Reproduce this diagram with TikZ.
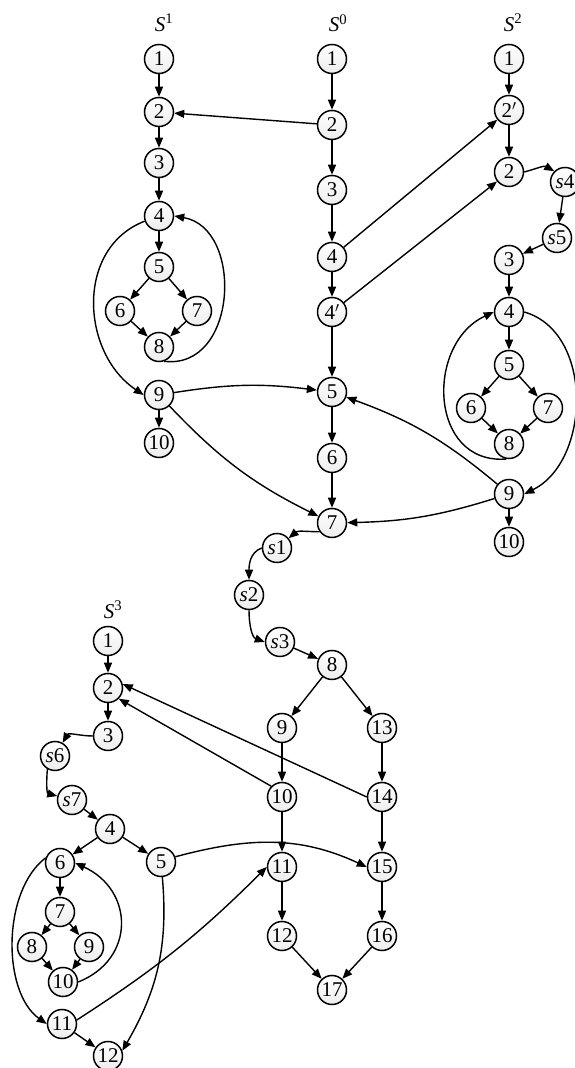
\documentclass[tikz,border=0pt]{standalone}
\usepackage{fontspec}
\setmainfont{Liberation Serif}
\usetikzlibrary{arrows.meta}

\tikzset{
  vtx/.style={circle,draw,line width=1.5pt,minimum size=29pt,inner sep=0pt,
    top color=white,bottom color=gray!14,font=\fontsize{21}{21}\selectfont},
  arr/.style={-{Triangle[length=10pt,width=8pt]},line width=1.4pt},
  lab/.style={font=\fontsize{21}{21}\selectfont}
}

\begin{document}
\begin{tikzpicture}[x=1pt,y=1pt]
    \useasboundingbox (0,0) rectangle (575,1068);

    \def\xa{159} % S^1
    \def\xb{332} % S^0
    \def\xc{509} % S^2
    \def\xd{108} % S^3

    % column labels
    \node[lab] (L1) at (164,1045) {\textit{S}\textsuperscript{1}};
    \node[lab] (L0) at (338,1045) {\textit{S}\textsuperscript{0}};
    \node[lab] (L2) at (513,1045) {\textit{S}\textsuperscript{2}};
    \node[lab] (L3) at (113,458) {\textit{S}\textsuperscript{3}};

    % S^1
    \node[vtx] (S1-1) at (\xa,1009) {1};
    \node[vtx] (S1-2) at (\xa,956) {2};
    \node[vtx] (S1-3) at (\xa,905) {3};
    \node[vtx] (S1-4) at (\xa,852) {4};
    \node[vtx] (S1-5) at (\xa,801) {5};
    \node[vtx] (S1-6) at ({\xa-39},757) {6};
    \node[vtx] (S1-7) at ({\xa+38},757) {7};
    \node[vtx] (S1-8) at (\xa,721) {8};
    \node[vtx] (S1-9) at (\xa,673) {9};
    \node[vtx] (S1-10) at (\xa,625) {10};

    % S^0
    \node[vtx] (S0-1) at (\xb,1009) {1};
    \node[vtx] (S0-2) at (\xb,943) {2};
    \node[vtx] (S0-3) at (\xb,878) {3};
    \node[vtx] (S0-4) at (\xb,811) {4};
    \node[vtx] (S0-4p) at (\xb,756) {4$'$};
    \node[vtx] (S0-5) at (\xb,676) {5};
    \node[vtx] (S0-6) at (\xb,610) {6};
    \node[vtx] (S0-7) at (\xb,545) {7};
    \node[vtx] (s1) at (277,520) {\textit{s}1};
    \node[vtx] (s2) at (249,473) {\textit{s}2};
    \node[vtx] (s3) at (280,426) {\textit{s}3};
    \node[vtx] (S0-8) at (\xb,403) {8};
    \node[vtx] (S0-9) at ({\xb-50},340) {9};
    \node[vtx] (S0-13) at ({\xb+50},340) {13};
    \node[vtx] (S0-10) at ({\xb-50},271) {10};
    \node[vtx] (S0-14) at ({\xb+50},271) {14};
    \node[vtx] (S0-11) at ({\xb-50},201) {11};
    \node[vtx] (S0-15) at ({\xb+50},201) {15};
    \node[vtx] (S0-12) at ({\xb-50},132) {12};
    \node[vtx] (S0-16) at ({\xb+50},132) {16};
    \node[vtx] (S0-17) at (\xb,78) {17};

    % S^2
    \node[vtx] (S2-1) at (\xc,1009) {1};
    \node[vtx] (S2-2p) at (\xc,958) {2$'$};
    \node[vtx] (S2-2) at (\xc,896) {2};
    \node[vtx] (s4) at (565,886) {\textit{s}4};
    \node[vtx] (s5) at (557,830) {\textit{s}5};
    \node[vtx] (S2-3) at (\xc,808) {3};
    \node[vtx] (S2-4) at (\xc,756) {4};
    \node[vtx] (S2-5) at (\xc,703) {5};
    \node[vtx] (S2-6) at ({\xc-38},660) {6};
    \node[vtx] (S2-7) at ({\xc+39},660) {7};
    \node[vtx] (S2-8) at (\xc,624) {8};
    \node[vtx] (S2-9) at (\xc,574) {9};
    \node[vtx] (S2-10) at (\xc,526) {10};

    % S^3
    \node[vtx] (S3-1) at (\xd,427) {1};
    \node[vtx] (S3-2) at (\xd,380) {2};
    \node[vtx] (S3-3) at (\xd,332) {3};
    \node[vtx] (s6) at (55,312) {\textit{s}6};
    \node[vtx] (s7) at (72,268) {\textit{s}7};
    \node[vtx] (S3-4) at (110,239) {4};
    \node[vtx] (S3-5) at (161,206) {5};
    \node[vtx] (S3-6) at (60,205) {6};
    \node[vtx] (S3-7) at (60,156) {7};
    \node[vtx] (S3-8) at (32,121) {8};
    \node[vtx] (S3-9) at (89,121) {9};
    \node[vtx] (S3-10) at (63,86) {10};
    \node[vtx] (S3-11) at (62,44) {11};
    \node[vtx] (S3-12) at (108,12) {12};

    % edges inside S^1
    \foreach \a/\b in {1/2,2/3,3/4,4/5,5/6,5/7,6/8,7/8,9/10}
        \draw[arr] (S1-\a) -- (S1-\b);
    \draw[arr] (S1-8.-70) .. controls (238,698) and (244,840) .. (S1-4.east);
    \draw[arr] (S1-4.200) .. controls (75,820) and (81,715) .. (S1-9.west);
    \draw[arr] (S1-9) to[bend left=8] (S0-5);
    \draw[arr] (S1-9) to[bend right=10] (S0-7);

    % edges inside S^0
    \foreach \a/\b in {1/2,2/3,3/4,4/4p,4p/5,5/6,6/7,8/9,8/13,9/10,13/14,10/11,14/15,11/12,15/16,12/17,16/17}
        \draw[arr] (S0-\a) -- (S0-\b);
    \draw[arr] (S0-2) -- (S1-2);
    \draw[arr] (S0-4) -- (S2-2p);
    \draw[arr] (S0-4p) -- (S2-2);
    \draw[arr] (S0-7.215) to[out=180,in=40] (s1.40);
    \draw[arr] (s1.west) to[out=200,in=90] (s2.north);
    \draw[arr] (s2.south) to[out=-90,in=160] (s3.west);
    \draw[arr] (s3) -- (S0-8);

    % edges inside S^2
    \foreach \a/\b in {1/2p,2p/2,3/4,4/5,5/6,5/7,6/8,7/8,9/10}
        \draw[arr] (S2-\a) -- (S2-\b);
    \draw[arr] (S2-2.east) to[out=15,in=150] (s4.north west);
    \draw[arr] (s4) -- (s5);
    \draw[arr] (s5) -- (S2-3);
    \draw[arr] (S2-8.-100) .. controls (429,603) and (425,724) .. (S2-4.west);
    \draw[arr] (S2-4.east) .. controls (594,736) and (591,607) .. (S2-9.east);
    \draw[arr] (S2-9) to[bend right=10] (S0-5);
    \draw[arr] (S2-9) to[bend left=8] (S0-7);

    % edges inside S^3
    \foreach \a/\b in {1/2,2/3,4/6,4/5,6/7,7/8,7/9,8/10,9/10,11/12}
        \draw[arr] (S3-\a) -- (S3-\b);
    \draw[arr] (S3-3.west) to[out=180,in=60] (s6.60);
    \draw[arr] (s6.-120) to[out=-95,in=165] (s7.165);
    \draw[arr] (s7) -- (S3-4);
    \draw[arr] (S3-6.160) .. controls (2,177) and (2,76) .. (S3-11.west);
    \draw[arr] (S3-10.east) .. controls (136,109) and (134,178) .. (S3-6.east);
    \draw[arr] (S3-5.-85) to[out=-85,in=60] (S3-12.20);
    \draw[arr] (S3-5.20) to[out=15,in=155] (S0-15.west);
    \draw[arr] (S3-11.15) to[bend right=6] (S0-11.west);
    \draw[arr] (S0-10.135) -- (S3-2.-45);
    \draw[arr] (S0-14.west) -- (S3-2.15);

\end{tikzpicture}
\end{document}
